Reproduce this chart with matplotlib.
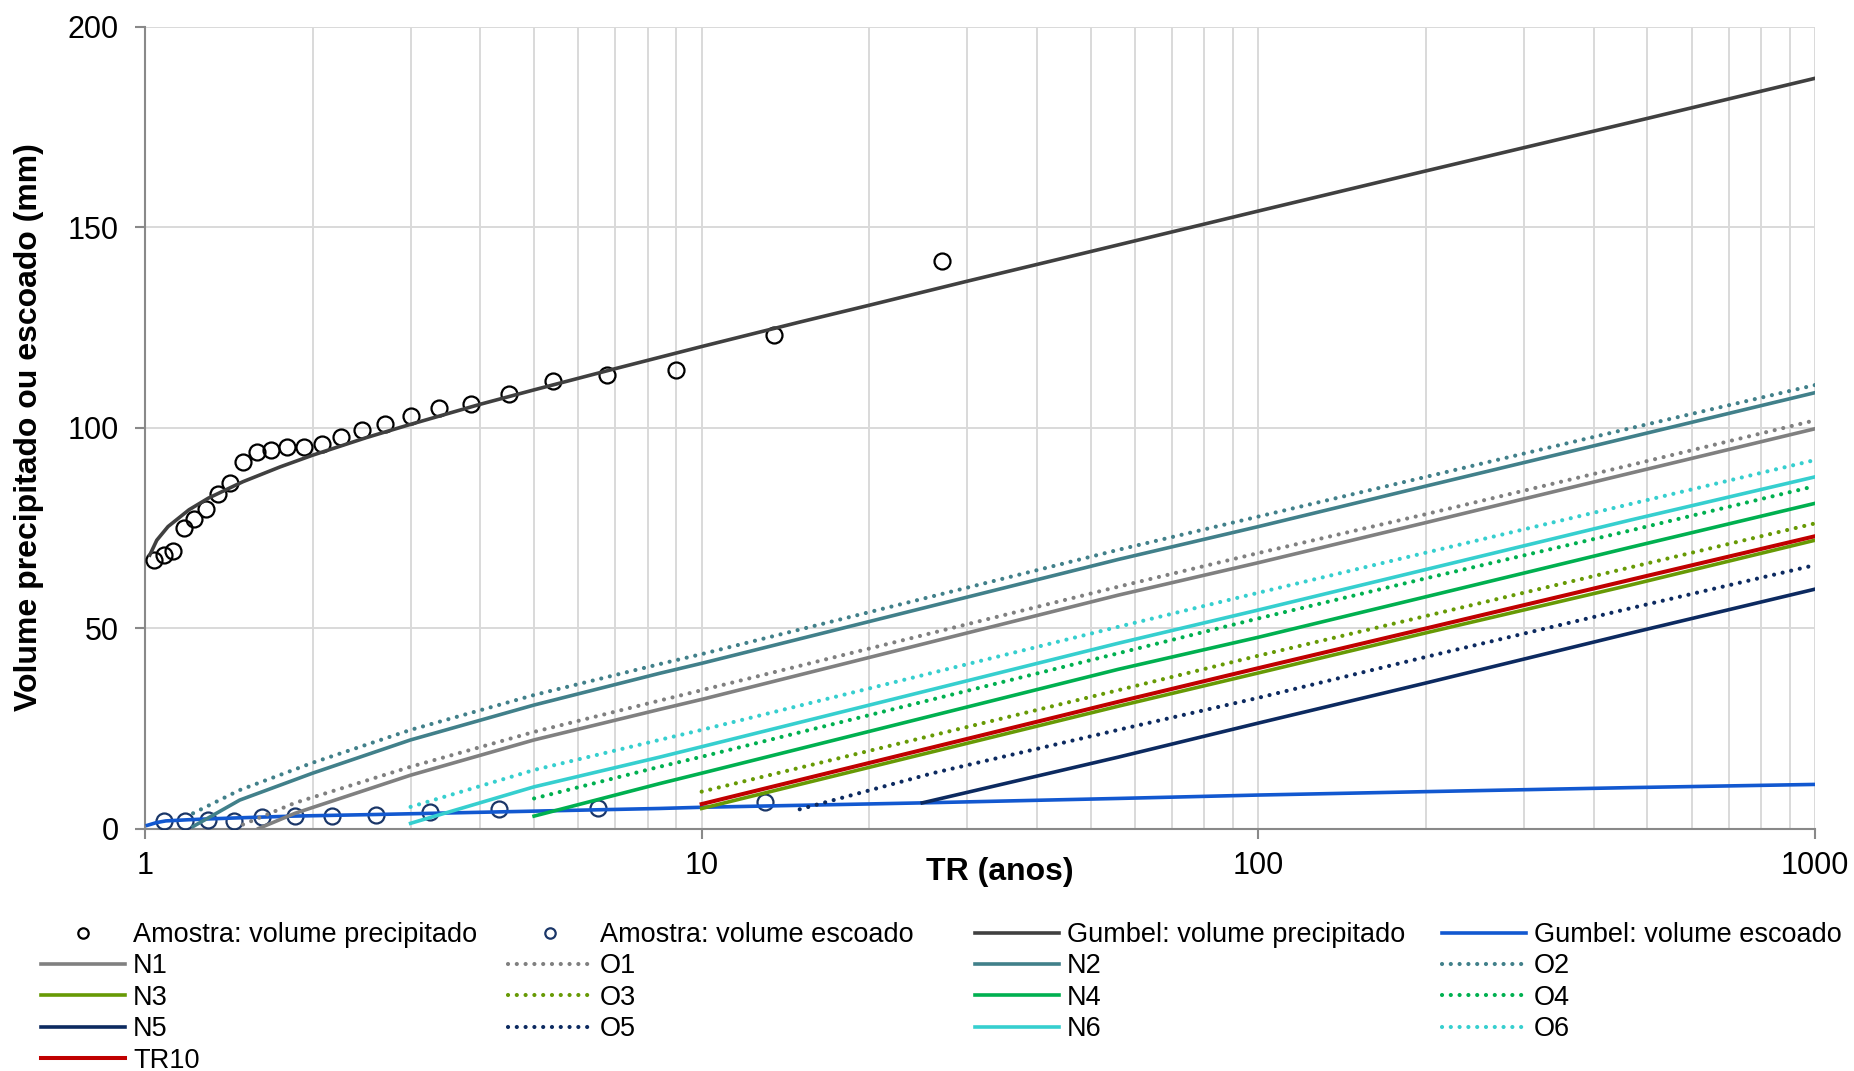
import matplotlib.pyplot as plt
from matplotlib.ticker import LogLocator, NullFormatter

plt.rcParams['font.family'] = 'Liberation Sans'

# amostras (TR pela posicao de plotagem)
tr_precip = [27.0, 13.5, 9.0, 6.75, 5.4, 4.5, 3.857, 3.375, 3.0, 2.7, 2.4545, 2.25, 2.077,
             1.929, 1.8, 1.6875, 1.588, 1.5, 1.421, 1.35, 1.286, 1.227, 1.174, 1.125, 1.08, 1.038]
vol_precip = [141.5, 123.0, 114.3, 113.1, 111.6, 108.4, 105.8, 104.9, 102.9, 100.9, 99.3, 97.6, 95.9,
              95.1, 95.1, 94.4, 93.9, 91.5, 86.2, 83.4, 79.6, 77.2, 74.9, 69.3, 68.2, 67.0]

tr_escoado = [13.0, 6.5, 4.333, 3.25, 2.6, 2.167, 1.857, 1.625, 1.444, 1.3, 1.182, 1.083]
vol_escoado = [6.7, 5.1, 4.9, 4.0, 3.3, 3.2, 3.1, 2.8, 2.0, 2.1, 1.95, 1.9]

# Gumbel
tr_gumbel_p = [1.02, 1.05, 1.1, 1.2, 1.3, 1.5, 1.75, 2, 2.5, 3, 4, 5, 7, 10, 15, 20, 30, 50,
               70, 100, 200, 300, 500, 1000]
gumbel_p = [68.2, 71.9, 75.3, 79.5, 82.4, 86.5, 90.2, 93.1, 97.5, 100.8, 105.8, 109.4, 114.7,
            120.2, 126.3, 130.5, 136.5, 143.9, 148.8, 154.0, 164.0, 169.8, 177.1, 187.1]

tr_gumbel_e = [1.01, 1.05, 1.09, 1.2, 1.3, 1.5, 1.85, 2.6, 4.5, 8.4, 10, 25, 56, 100, 200, 465, 1000]
gumbel_e = [0.8, 1.5, 1.9, 2.2, 2.4, 2.7, 3.1, 3.5, 4.2, 5.0, 5.3, 6.4, 7.5, 8.35, 9.2, 10.2, 11.0]

# curvas N / O
tr_n1 = [1.6, 1.86, 3.0, 5.0, 8.4, 10, 56, 100, 200, 465, 1000]
n1 = [0.0, 3.8, 13.3, 22.1, 29.7, 32.2, 58.2, 66.3, 76.3, 88.6, 99.7]
tr_o1 = [1.5, 1.86, 3.0, 5.0, 8.4, 10, 56, 100, 200, 465, 1000]
o1 = [1.0, 6.4, 15.4, 24.1, 31.9, 34.5, 60.3, 68.7, 78.4, 90.6, 101.8]

tr_n2 = [1.22, 1.48, 2.0, 3.0, 5.0, 8.4, 10, 56, 100, 200, 465, 1000]
n2 = [0.5, 7.1, 13.8, 22.1, 30.8, 38.7, 41.2, 67.1, 75.3, 85.4, 97.6, 108.7]
tr_o2 = [1.22, 1.48, 2.0, 3.0, 5.0, 8.4, 10, 56, 100, 200, 465, 1000]
o2 = [3.8, 9.6, 16.4, 24.6, 33.3, 41.0, 43.5, 69.5, 77.8, 87.7, 99.8, 110.6]

tr_n3 = [10, 56, 100, 200, 465, 1000]
n3 = [5.0, 30.5, 38.8, 48.8, 60.7, 71.9]
tr_o3 = [10, 56, 100, 200, 465, 1000]
o3 = [9.2, 34.5, 43.1, 53.0, 65.1, 76.1]

tr_n4 = [5.0, 8.4, 10, 56, 100, 200, 465, 1000]
n4 = [3.1, 11.2, 13.8, 39.7, 47.7, 57.8, 70.1, 81.1]
tr_o4 = [5.0, 8.4, 10, 56, 100, 200, 465, 1000]
o4 = [7.5, 15.4, 17.9, 43.7, 52.4, 62.4, 74.3, 85.4]

tr_n5 = [24.9, 56, 100, 200, 465, 1000]
n5 = [6.4, 17.8, 26.3, 36.3, 48.7, 59.7]
tr_o5 = [15, 26, 56, 100, 200, 465, 1000]
o5 = [4.8, 13.8, 24.6, 32.6, 42.8, 54.9, 65.7]

tr_n6 = [3.0, 5.0, 8.4, 10, 56, 100, 200, 465, 1000]
n6 = [1.3, 10.4, 17.8, 20.4, 46.2, 54.5, 64.6, 76.9, 87.7]
tr_o6 = [3.0, 5.0, 8.4, 10, 56, 100, 200, 465, 1000]
o6 = [5.4, 14.6, 22.1, 24.6, 50.3, 58.8, 68.8, 80.9, 91.9]

tr_tr10 = [10, 56, 100, 200, 465, 1000]
tr10 = [6.1, 31.6, 40.0, 49.9, 62.0, 72.9]

cores = {'1': '#808080', '2': '#41808a', '3': '#679a05', '4': '#00b050',
         '5': '#0c2a60', '6': '#36cfcf'}
curvas = {
    'N1': (tr_n1, n1), 'O1': (tr_o1, o1), 'N2': (tr_n2, n2), 'O2': (tr_o2, o2),
    'N3': (tr_n3, n3), 'O3': (tr_o3, o3), 'N4': (tr_n4, n4), 'O4': (tr_o4, o4),
    'N5': (tr_n5, n5), 'O5': (tr_o5, o5), 'N6': (tr_n6, n6), 'O6': (tr_o6, o6),
}

fig = plt.figure(figsize=(18.54, 10.71), dpi=100)
ax = fig.add_axes([0.0782, 0.2264, 0.9008, 0.7488])

lw = 2.6
dots = (0, (0.01, 2.1))
h = {}
h['Amostra: volume precipitado'], = ax.plot(tr_precip, vol_precip, ls='none', marker='o', ms=11.5,
                                            mfc='none', mec='black', mew=1.6, zorder=3)
h['Amostra: volume escoado'], = ax.plot(tr_escoado, vol_escoado, ls='none', marker='o', ms=11.5,
                                        mfc='none', mec='#1a3668', mew=1.6, zorder=3)
h['Gumbel: volume precipitado'], = ax.plot(tr_gumbel_p, gumbel_p, color='#404040', lw=lw, zorder=4)
h['Gumbel: volume escoado'], = ax.plot(tr_gumbel_e, gumbel_e, color='#1258d0', lw=lw, zorder=4)
for nome, (x, y) in curvas.items():
    if nome[0] == 'N':
        h[nome], = ax.plot(x, y, color=cores[nome[1]], lw=lw, zorder=5)
    else:
        h[nome], = ax.plot(x, y, color=cores[nome[1]], lw=3.0, ls=dots,
                           dash_capstyle='round', zorder=5)
h['TR10'], = ax.plot(tr_tr10, tr10, color='#c00000', lw=lw + 0.3, zorder=6)

ax.set_xscale('log')
ax.set_xlim(1, 1000)
ax.set_ylim(0, 200)
ax.set_xticks([1, 10, 100, 1000])
ax.set_xticklabels(['1', '10', '100', '1000'])
ax.xaxis.set_minor_locator(LogLocator(base=10, subs=range(2, 10)))
ax.xaxis.set_minor_formatter(NullFormatter())
ax.set_yticks([0, 50, 100, 150, 200])

ax.set_axisbelow(True)
ax.grid(True, which='both', axis='x', color='#d9d9d9', lw=1.4)
ax.grid(True, which='major', axis='y', color='#d9d9d9', lw=1.4)

for s in ['top', 'right']:
    ax.spines[s].set_visible(False)
for s in ['left', 'bottom']:
    ax.spines[s].set_color('#898989')
    ax.spines[s].set_linewidth(1.5)

ax.tick_params(which='major', length=7, width=1.5, color='#898989', labelsize=22)
ax.tick_params(axis='x', pad=9)
ax.tick_params(axis='y', pad=12)
ax.tick_params(which='minor', length=0)

ax.set_xlabel('TR (anos)', fontsize=23, fontweight='bold')
ax.xaxis.set_label_coords(0.512, -0.0354)
ax.set_ylabel('Volume precipitado ou escoado (mm)', fontsize=23, fontweight='bold')
ax.yaxis.set_label_coords(-0.0605, 0.5)

colunas = [
    ['Amostra: volume precipitado', 'N1', 'N3', 'N5', 'TR10'],
    ['Amostra: volume escoado', 'O1', 'O3', 'O5'],
    ['Gumbel: volume precipitado', 'N2', 'N4', 'N6'],
    ['Gumbel: volume escoado', 'O2', 'O4', 'O6'],
]
x_col = [41, 508, 975, 1442]
for xc, col in zip(x_col, colunas):
    fig.legend([h[c] for c in col], col, loc='upper left',
               bbox_to_anchor=(xc / 1854, 1 - 922 / 1071), frameon=False,
               fontsize=19.5, borderpad=0, borderaxespad=0, handlelength=3.1,
               handletextpad=0.3, labelspacing=0.2, markerscale=0.65)

fig.savefig('out.png', dpi=100)
